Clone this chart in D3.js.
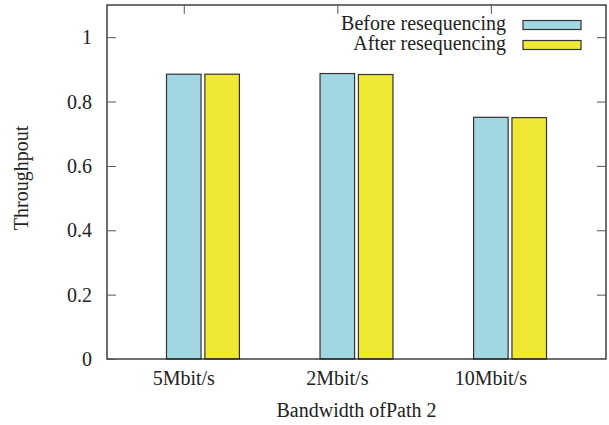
<!DOCTYPE html>
<html>
<head>
<meta charset="utf-8">
<script src="https://cdn.jsdelivr.net/npm/d3@7"></script>
<style>
  body { margin: 0; background: #fff; }
</style>
</head>
<body>
<svg id="chart" width="609" height="425"></svg>
<script>
// chart data
const categories = ['5Mbit/s', '2Mbit/s', '10Mbit/s'];
const seriesNames = ['Before resequencing', 'After resequencing'];
const before = [0.885, 0.887, 0.751];
const after = [0.885, 0.884, 0.750];
const yTicks = [0, 0.2, 0.4, 0.6, 0.8, 1];

const width = 609;
const height = 425;
const margin = { top: 5, right: 3, bottom: 66, left: 107 };
const colors = ['#a2d6e2', '#f0e934'];
const svg = d3.select('#chart');

const label = sel => sel
  .attr('font-family', 'Liberation Serif')
  .attr('font-size', 20)
  .attr('fill', '#222');

// gnuplot-style clustered histogram: cluster i at x=i, slot width 0.25
const x = d3.scaleLinear()
  .domain([-0.5, 2.75])
  .range([margin.left, width - margin.right]);

const y = d3.scaleLinear()
  .domain([0, 1.1])
  .range([height - margin.bottom, margin.top]);

const slot = 0.25;
const boxW = x(0.225) - x(0);
const series = [before, after];

series.forEach((vals, s) => {
  svg.append('g')
    .selectAll('rect')
    .data(vals)
    .join('rect')
    .attr('x', (d, i) => x(i + s * slot) - boxW / 2)
    .attr('y', d => y(d))
    .attr('width', boxW)
    .attr('height', d => y(0) - y(d))
    .attr('fill', colors[s])
    .attr('stroke', '#333')
    .attr('stroke-width', 1.2);
});

// frame
svg.append('rect')
  .attr('x', x(-0.5))
  .attr('y', y(1.1))
  .attr('width', x(2.75) - x(-0.5))
  .attr('height', y(0) - y(1.1))
  .attr('fill', 'none')
  .attr('stroke', '#222')
  .attr('stroke-width', 1.3);

// y axis left, with mirrored ticks on the right
svg.append('g')
  .attr('transform', `translate(${x(-0.5)},0)`)
  .call(d3.axisRight(y).tickValues(yTicks).tickSize(9).tickFormat(''))
  .call(g => g.select('.domain').remove())
  .call(g => g.selectAll('line').attr('stroke', '#555'));

svg.append('g')
  .attr('transform', `translate(${x(2.75)},0)`)
  .call(d3.axisLeft(y).tickValues(yTicks.slice(1)).tickSize(9).tickFormat(''))
  .call(g => g.select('.domain').remove())
  .call(g => g.selectAll('line').attr('stroke', '#555'));

svg.append('g')
  .selectAll('text')
  .data(yTicks)
  .join('text')
  .attr('x', x(-0.5) - 15)
  .attr('y', d => y(d) + 7)
  .attr('text-anchor', 'end')
  .call(label)
  .text(d => d);

// x ticks at top, labels at bottom
svg.append('g')
  .attr('transform', `translate(0,${y(1.1)})`)
  .call(d3.axisBottom(x).tickValues(d3.range(categories.length)).tickSize(9).tickFormat(''))
  .call(g => g.select('.domain').remove())
  .call(g => g.selectAll('line').attr('stroke', '#555'));

svg.append('g')
  .selectAll('text')
  .data(categories)
  .join('text')
  .attr('x', (d, i) => x(i))
  .attr('y', y(0) + 26)
  .attr('text-anchor', 'middle')
  .call(label)
  .text(d => d);

// axis titles
svg.append('text')
  .attr('x', (x(-0.5) + x(2.75)) / 2)
  .attr('y', 417)
  .attr('text-anchor', 'middle')
  .call(label)
  .text('Bandwidth ofPath 2');

svg.append('text')
  .attr('transform', `translate(28,178) rotate(-90)`)
  .attr('text-anchor', 'middle')
  .call(label)
  .text('Throughpout');

// legend
const legend = svg.append('g')
  .selectAll('g')
  .data(seriesNames)
  .join('g')
  .attr('transform', (d, i) => `translate(0,${i * 20})`);

legend.append('text')
  .attr('x', 506)
  .attr('y', 30)
  .attr('text-anchor', 'end')
  .call(label)
  .text(d => d);

legend.append('rect')
  .attr('x', 523)
  .attr('y', 20.5)
  .attr('width', 58)
  .attr('height', 9)
  .attr('fill', (d, i) => colors[i])
  .attr('stroke', '#333')
  .attr('stroke-width', 1.2);
</script>
</body>
</html>
